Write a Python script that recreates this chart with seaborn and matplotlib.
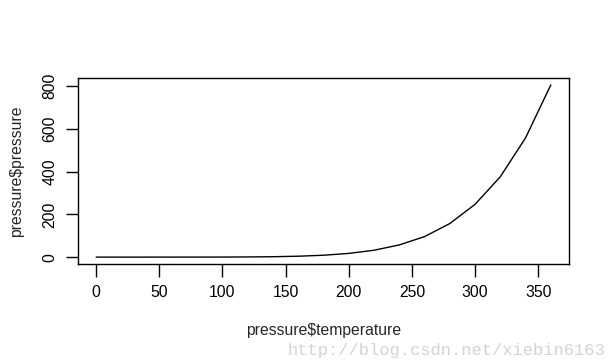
import matplotlib
matplotlib.use("Agg")
import matplotlib.pyplot as plt
import seaborn as sns
import pandas as pd

# R's built-in "pressure" dataset
temperature = [0, 20, 40, 60, 80, 100, 120, 140, 160, 180,
               200, 220, 240, 260, 280, 300, 320, 340, 360]
pressure = [0.0002, 0.0012, 0.0060, 0.0300, 0.0900, 0.2700, 0.7500, 1.8500,
            4.2000, 8.8000, 17.3000, 32.1000, 57.0000, 96.0000, 157.0000,
            247.0000, 376.0000, 558.0000, 806.0000]
x_ticks = [0, 50, 100, 150, 200, 250, 300, 350]
y_ticks = [0, 200, 400, 600, 800]

df = pd.DataFrame({"temperature": temperature, "pressure": pressure})

sns.set_style("white")
plt.rcParams["font.family"] = ["Liberation Sans", "DejaVu Sans"]

fig = plt.figure(figsize=(6.09, 3.62), dpi=100)
ax = fig.add_axes([78 / 609, 98 / 362, 491 / 609, 186 / 362])

sns.lineplot(data=df, x="temperature", y="pressure", color="black",
             linewidth=1.0, ax=ax)

# R style 4% padding
ax.set_xlim(-14.4, 374.4)
ax.set_ylim(-32.24, 838.24)
ax.set_xticks(x_ticks)
ax.set_yticks(y_ticks)
ax.set_yticklabels([str(v) for v in y_ticks], rotation=90, va="center")
ax.tick_params(direction="out", length=9, width=1, labelsize=11.3,
               colors="black", pad=6, bottom=True, left=True)
for s in ax.spines.values():
    s.set_color("black")
    s.set_linewidth(1.0)

ax.set_xlabel(r"pressure\$temperature", fontsize=11.3, labelpad=17)
ax.set_ylabel(r"pressure\$pressure", fontsize=11.3, labelpad=13)

# watermark from the source image
fig.text(0.472, 0.02, "http://blog.csdn.net/xiebin6163", fontsize=12.3,
         family=["Liberation Mono", "DejaVu Sans Mono"], color="#d4d4d4")

fig.savefig("out.png", dpi=100)
